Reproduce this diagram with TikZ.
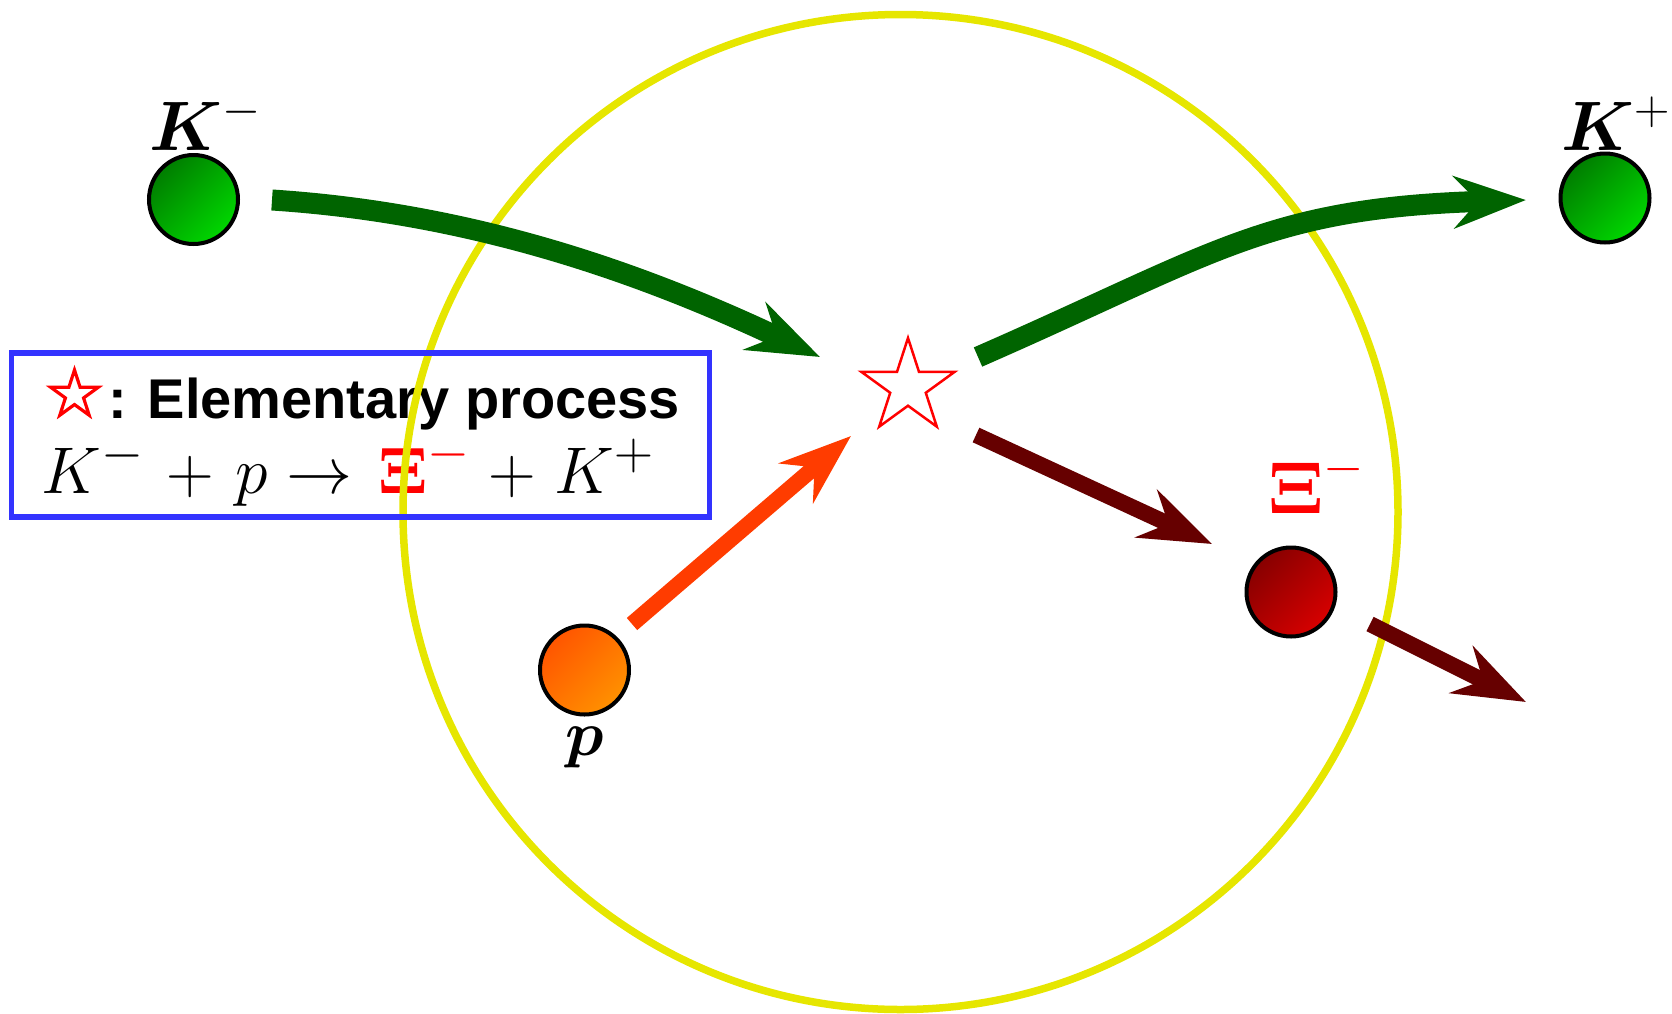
\documentclass[tikz,border=0pt]{standalone}
\usepackage{fix-cm}
\usepackage{fontspec}
\setmainfont{Liberation Sans}
\usepackage{bm}
\DeclareMathSizes{33}{33}{27}{20}
\usetikzlibrary{arrows.meta,shapes.geometric}
\definecolor{ringyellow}{RGB}{230,230,0}
\definecolor{kgreen}{RGB}{0,100,0}
\definecolor{xired}{RGB}{102,0,0}
\definecolor{porange}{RGB}{255,60,0}
\definecolor{legblue}{RGB}{51,51,255}
\tikzset{
  ball/.style={circle, draw=black, line width=2pt, minimum size=44.5pt, inner sep=0pt},
  greenball/.style={ball, top color={rgb,255:red,0;green,125;blue,0}, bottom color={rgb,255:red,0;green,215;blue,0}, shading angle=45},
  redball/.style={ball, top color={rgb,255:red,135;green,0;blue,0}, bottom color={rgb,255:red,215;green,0;blue,0}, shading angle=45},
  orangeball/.style={ball, top color={rgb,255:red,255;green,85;blue,0}, bottom color={rgb,255:red,255;green,145;blue,0}, shading angle=45},
  fat/.style={-{Stealth[length=36pt, width=26pt, inset=12pt]}},
  greenarrow/.style={fat, draw=kgreen, line width=10.5pt},
  thinarrow/.style={fat, line width=8pt},
  starnode/.style={star, star points=5, star point ratio=2.618, draw=red, inner sep=0pt},
}
\begin{document}
\begin{tikzpicture}[x=0.5pt,y=-0.5pt]
\useasboundingbox (0,0) rectangle (1672,1013);
% legend texts
\node[starnode, minimum size=25pt, line width=1.6pt] (lstar) at (74.5,395) {};
\node[anchor=base west, font=\fontsize{28}{34}\selectfont\bfseries, inner sep=0pt] (ltext) at (108,418) {: Elementary process};
\node[anchor=base west, font=\fontsize{33}{39}\selectfont, inner sep=0pt] (eq) at (41,493)
  {$K^{-}\mkern2mu+\mkern2mu p\rightarrow\mkern2mu{\color{red}\bm{\Xi}^{-}}\mkern1mu+\mkern1mu K^{+}$};
% ring
\node[circle, draw=ringyellow, line width=3.75pt, minimum size=497.5pt, inner sep=0pt] (ring) at (900.5,512) {};
% legend box
\node[draw=legblue, line width=2.75pt, minimum width=349pt, minimum height=82pt, inner sep=0pt] (legend) at (360.7,434.8) {};
% balls
\node[greenball] (km) at (193.5,199.5) {};
\node[greenball] (kp) at (1605,198) {};
\node[orangeball] (p) at (584.5,670) {};
\node[redball] (xi) at (1291,592) {};
% star
\node[starnode, minimum size=49pt, line width=1.25pt] (vertex) at (908,387) {};
% arrow end points
\coordinate (a1s) at (272,200);  \coordinate (a1e) at (820,357);
\coordinate (a2s) at (978,357);  \coordinate (a2e) at (1526,200);
\coordinate (a3s) at (632,624);  \coordinate (a3e) at (851,436);
\coordinate (a4s) at (976,435);  \coordinate (a4e) at (1212,544);
\coordinate (a5s) at (1370,624); \coordinate (a5e) at (1526,702);
\draw[greenarrow] (a1s) .. controls (472,213) and (640,272) .. (a1e);
\draw[greenarrow] (a2s) .. controls (1216,253) and (1266,208) .. (a2e);
\draw[thinarrow, draw=porange] (a3s) -- (a3e);
\draw[thinarrow, draw=xired] (a4s) -- (a4e);
\draw[thinarrow, draw=xired] (a5s) -- (a5e);
% labels
\node[anchor=base west, font=\fontsize{35}{41}\selectfont, inner sep=0pt] (kmlab) at (149,150) {$\bm{K}^{-}$};
\node[anchor=base west, font=\fontsize{35}{41}\selectfont, inner sep=0pt] (kplab) at (1561,150) {$\bm{K}^{+}$};
\node[anchor=base, font=\fontsize{32}{38}\selectfont, inner sep=0pt] (plab) at (585,755) {$\bm{p}$};
\node[anchor=base west, text=red, font=\fontsize{37}{43}\selectfont, inner sep=0pt] (xilab) at (1268,513) {$\bm{\Xi}^{-}$};
\end{tikzpicture}
\end{document}
